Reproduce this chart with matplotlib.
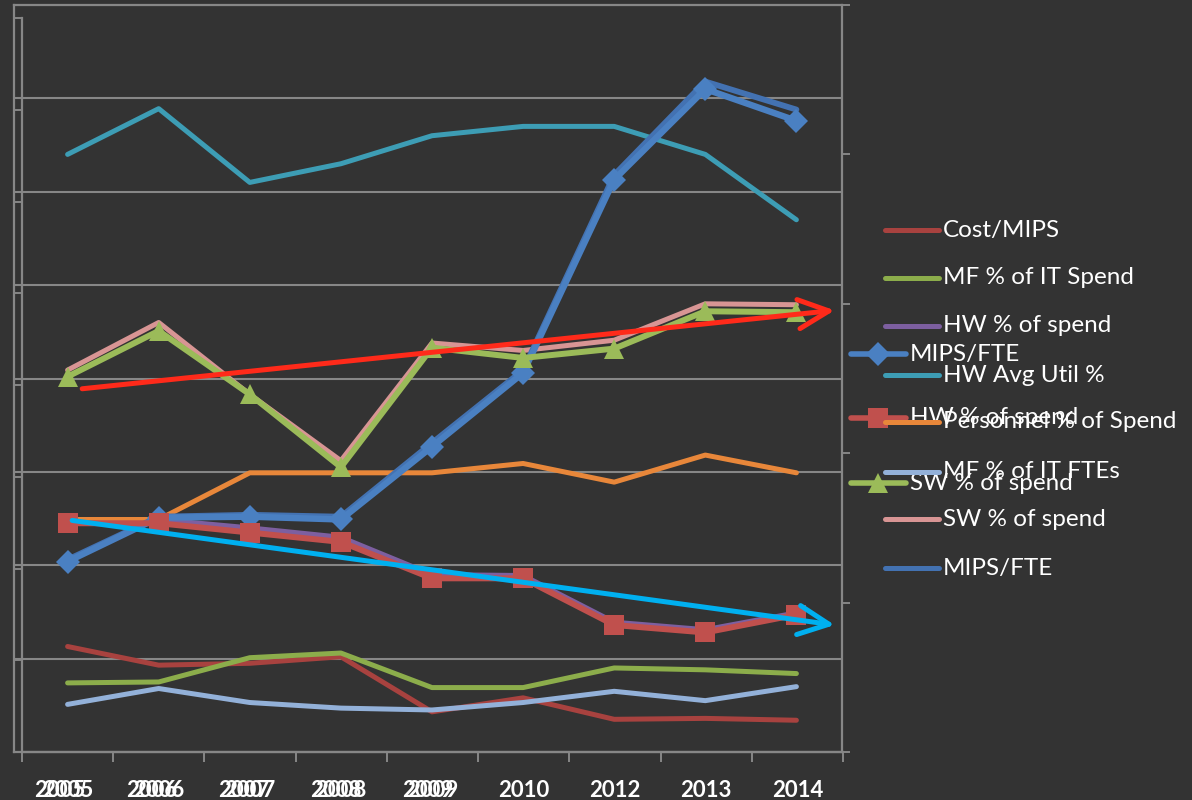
import matplotlib
matplotlib.use("Agg")
import matplotlib.pyplot as plt
from matplotlib.lines import Line2D

# ---------------- data (values in chart grid units, 0..8) ----------------
years = ["2005", "2006", "2007", "2008", "2009", "2010", "2012", "2013", "2014"]
years_back = ["2005", "2006", "2007", "2008", "2009"]

cost_mips      = [1.13, 0.93, 0.95, 1.02, 0.43, 0.58, 0.35, 0.36, 0.34]
mf_it_spend    = [0.74, 0.75, 1.01, 1.06, 0.69, 0.69, 0.90, 0.88, 0.84]
hw_spend       = [2.49, 2.49, 2.40, 2.30, 1.90, 1.89, 1.39, 1.31, 1.49]
hw_avg_util    = [6.40, 6.89, 6.10, 6.30, 6.60, 6.70, 6.70, 6.40, 5.70]
personnel      = [2.49, 2.49, 2.99, 2.99, 2.99, 3.09, 2.89, 3.18, 2.99]
mf_it_ftes     = [0.51, 0.68, 0.53, 0.47, 0.45, 0.53, 0.65, 0.55, 0.70]
sw_spend       = [4.09, 4.60, 3.83, 3.12, 4.38, 4.30, 4.41, 4.80, 4.79]
mips_fte       = [2.06, 2.52, 2.54, 2.52, 3.31, 4.09, 6.18, 7.18, 6.88]

mips_fte_m     = [2.04, 2.51, 2.52, 2.49, 3.27, 4.06, 6.13, 7.10, 6.76]
hw_spend_m     = [2.45, 2.45, 2.35, 2.25, 1.86, 1.86, 1.36, 1.28, 1.47]
sw_spend_m     = [4.02, 4.51, 3.83, 3.05, 4.33, 4.22, 4.32, 4.72, 4.71]

thin_names = ["Cost/MIPS", "MF % of IT Spend", "HW % of spend", "HW Avg Util %",
              "Personnel % of Spend", "MF % of IT FTEs", "SW % of spend", "MIPS/FTE"]
thin_colors = ["#A8423F", "#8CAD4B", "#7D5FA0", "#3D9DB5",
               "#E8873A", "#93B1D9", "#D89594", "#4372B2"]
thin_values = [cost_mips, mf_it_spend, hw_spend, hw_avg_util,
               personnel, mf_it_ftes, sw_spend, mips_fte]

mark_names = ["MIPS/FTE", "HW % of spend", "SW % of spend"]
mark_colors = ["#4A80C2", "#C0504D", "#9BBB59"]
mark_symbols = ["D", "s", "^"]
mark_sizes = [12, 14, 15]
mark_values = [mips_fte_m, hw_spend_m, sw_spend_m]

# trend arrows (start, end) in data units
red_arrow = [(0.16, 3.89), (8.42, 4.73)]
blue_arrow = [(0.05, 2.48), (8.42, 1.36)]

BG = "#333333"
GRID = "#878787"

W, H = 1192, 800
def fx(p): return p / W
def fy(p): return 1 - p / H

fig = plt.figure(figsize=(11.92, 8), dpi=100, facecolor=BG)

# back frame (second chart)
ax2 = fig.add_axes([fx(22), fy(752), fx(843) - fx(22), fy(18) - fy(752)])
ax2.set_zorder(1)
ax2.patch.set_visible(False)
ax2.set_xlim(-0.5, 8.5)
ax2.set_ylim(0, 8)
for s in ["top", "right"]:
    ax2.spines[s].set_visible(False)
for s in ["left", "bottom"]:
    ax2.spines[s].set_color(GRID)
    ax2.spines[s].set_linewidth(1.6)
ax2.set_yticks(range(0, 9))
ax2.set_yticklabels([])
ax2.tick_params(axis="y", direction="out", length=6, width=1.4, color=GRID)
ax2.set_xticks([i - 0.5 for i in range(10)])
ax2.set_xticklabels([])
ax2.tick_params(axis="x", direction="out", length=7, width=1.4, color=GRID)

# main axes
ax1 = fig.add_axes([fx(14), fy(752), fx(842) - fx(14), fy(5) - fy(752)])
ax1.set_zorder(2)
ax1.patch.set_visible(False)
ax1.set_xlim((14 - 67.6) / 91.1, (842 - 67.6) / 91.1)
ax1.set_ylim(0, 8)
ax1.set_xticks([])
ax1.set_yticks([])
for y in range(1, 8):
    ax1.axhline(y, color=GRID, lw=1.5, zorder=0)
for s in ["left", "top", "bottom"]:
    ax1.spines[s].set_color(GRID)
    ax1.spines[s].set_linewidth(1.6)
ax1.spines["right"].set_visible(False)

ax3 = ax1.twinx()
ax3.set_ylim(0, 5)
ax3.set_yticks(range(0, 6))
ax3.set_yticklabels([])
ax3.tick_params(axis="y", direction="out", length=6, width=1.4, color=GRID)
for s in ["left", "top", "bottom"]:
    ax3.spines[s].set_visible(False)
ax3.spines["right"].set_color(GRID)
ax3.spines["right"].set_linewidth(1.6)

x = list(range(len(years)))

# thin series
for name, col, vals in zip(thin_names, thin_colors, thin_values):
    lw = 4.2 if name == "MIPS/FTE" else 3.6
    ax1.plot(x, vals, color=col, lw=lw, solid_capstyle="round",
             solid_joinstyle="round", zorder=3)

# marker series
for name, col, mk, ms, vals in zip(mark_names, mark_colors,
                                    mark_symbols, mark_sizes, mark_values):
    lw = 4.6 if name == "MIPS/FTE" else 4.3
    ax1.plot(x, vals, color=col, lw=lw, marker=mk, markersize=ms,
             markerfacecolor=col, markeredgecolor=col, markeredgewidth=0,
             solid_joinstyle="round", solid_capstyle="round", zorder=4)

# arrows
for (s, e), col in [(red_arrow, "#FF2A1A"), (blue_arrow, "#00B0F0")]:
    ax1.annotate("", xy=e, xytext=s,
                 arrowprops=dict(arrowstyle="->,head_length=2.2,head_width=1.05",
                                 lw=3.6, color=col, shrinkA=0, shrinkB=0,
                                 mutation_scale=10),
                 zorder=6)

# x labels (doubled for back chart)
lab_font = dict(family="Lato", weight="bold", size=16, color="white")
for i, yl in enumerate(years_back):
    ax1.annotate(yl, xy=((i + 0.5) / 9, 0), xycoords="axes fraction",
                 xytext=(0, -27.5), textcoords="offset points",
                 ha="center", va="center", **lab_font)
for i, yl in enumerate(years):
    ax2.annotate(yl, xy=(i, 0), xycoords=("data", "axes fraction"),
                 xytext=(0, -27.5), textcoords="offset points",
                 ha="center", va="center", **lab_font)

# legend 2 (marker series)
leg_font = dict(family="Lato", size=17.5, color="white")
leg2_y = [354, 418, 483]
for name, col, mk, ms, yy in zip(mark_names, mark_colors,
                                  mark_symbols, mark_sizes, leg2_y):
    fig.add_artist(Line2D([fx(851), fx(906)], [fy(yy), fy(yy)], color=col, lw=4,
                          solid_capstyle="round", zorder=5))
    fig.add_artist(Line2D([fx(878)], [fy(yy)], marker=mk, markersize=ms,
                          color=col, markeredgewidth=0, zorder=5))
    fig.text(fx(910), fy(yy), name, ha="left", va="center", zorder=5, **leg_font)

# legend 1 (thin series)
leg1_y = [230, 278, 326, 375, 422, 472, 519, 568]
for name, col, yy in zip(thin_names, thin_colors, leg1_y):
    fig.add_artist(Line2D([fx(885), fx(939)], [fy(yy), fy(yy)], color=col, lw=3.6,
                          solid_capstyle="round", zorder=6))
    fig.text(fx(943), fy(yy), name, ha="left", va="center", zorder=6, **leg_font)

fig.savefig("out.png", dpi=100, facecolor=BG)
